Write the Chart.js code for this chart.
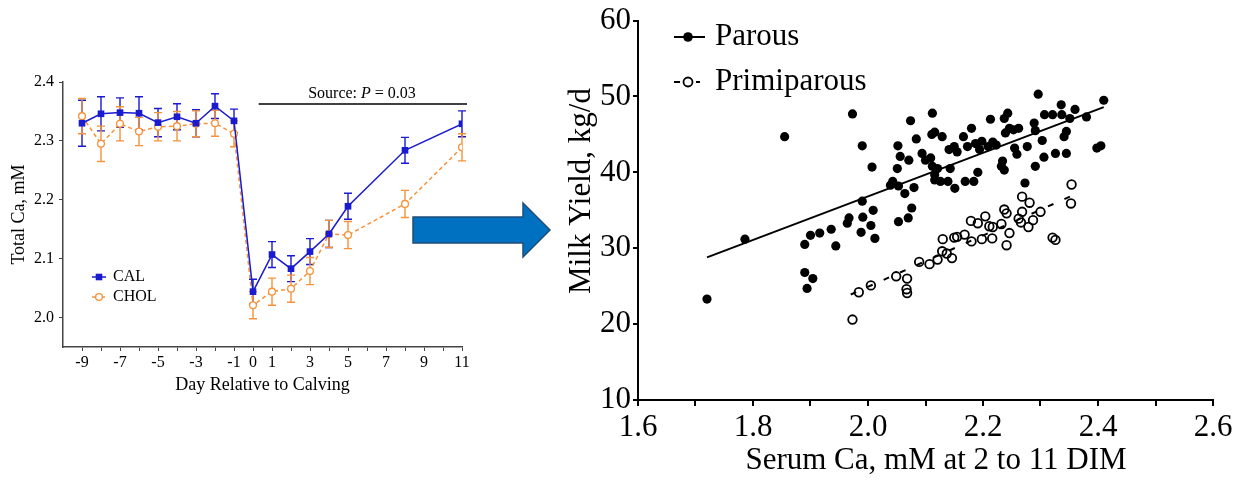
<!DOCTYPE html>
<html>
<head>
<meta charset="utf-8">
<script src="https://cdn.jsdelivr.net/npm/chart.js@4"></script>
<style>
    body { margin: 0; background: #fff; width: 1246px; height: 481px; position: relative; overflow: hidden; }
    #left { position: absolute; left: 0; top: 0; }
    #arrow { position: absolute; left: 0; top: 0; }
    #right { position: absolute; left: 560px; top: 0; }
</style>
</head>
<body>
<canvas id="left" width="480" height="481"></canvas>
<svg id="arrow" width="1246" height="481">
    <polygon points="413,217 523,217 523,203 550,230 523,257 523,243 413,243" fill="#0070C0" stroke="#1F4E79" stroke-width="1.5"/>
</svg>
<canvas id="right" width="686" height="481"></canvas>
<script>
// left panel: total Ca around calving
const days = [-9, -8, -7, -6, -5, -4, -3, -2, -1, 0, 1, 2, 3, 4, 5, 8, 11];
const calMean = [2.330, 2.346, 2.348, 2.347, 2.331, 2.341, 2.330, 2.359, 2.334, 2.044, 2.107, 2.083, 2.112, 2.142, 2.189, 2.284, 2.329];
const calSem = [0.039, 0.029, 0.025, 0.028, 0.024, 0.022, 0.023, 0.021, 0.020, 0.021, 0.022, 0.022, 0.022, 0.023, 0.022, 0.022, 0.022];
const cholMean = [2.342, 2.295, 2.329, 2.316, 2.324, 2.325, 2.329, 2.330, 2.312, 2.021, 2.044, 2.049, 2.079, 2.142, 2.140, 2.193, 2.289];
const cholSem = [0.030, 0.030, 0.029, 0.024, 0.024, 0.025, 0.022, 0.022, 0.022, 0.023, 0.023, 0.023, 0.023, 0.023, 0.023, 0.023, 0.023];
const dayTicks = [-9, -7, -5, -3, -1, 0, 1, 3, 5, 7, 9, 11];
const dayMarks = [-9, -8, -7, -6, -5, -4, -3, -2, -1, 0, 1, 2, 3, 4, 5, 6, 7, 8, 9, 10, 11];
const caTicks = [2.0, 2.1, 2.2, 2.3, 2.4];

// right panel: milk yield vs serum Ca
const parousCa = [1.72, 1.786, 1.855, 1.89, 1.89, 1.894, 1.904, 1.90, 1.916, 1.936, 1.944, 1.964, 1.967, 1.973, 1.99, 1.99, 1.991, 1.988, 2.005, 2.009,
    2.012, 2.007, 2.039, 2.043, 2.052, 2.051, 2.056, 2.053, 2.053, 2.064, 2.071, 2.074, 2.07, 2.076, 2.08, 2.084, 2.094, 2.10, 2.112, 2.111,
    2.116, 2.129, 2.109, 2.112, 2.116, 2.121, 2.116, 2.126, 2.139, 2.143, 2.141, 2.151, 2.15, 2.155, 2.166, 2.169, 2.173, 2.18, 2.184, 2.187,
    2.191, 2.194, 2.198, 2.209, 2.213, 2.217, 2.223, 2.232, 2.234, 2.237, 2.237, 2.243, 2.239, 2.246, 2.253, 2.255, 2.259, 2.262, 2.273, 2.277,
    2.289, 2.291, 2.291, 2.296, 2.303, 2.307, 2.306, 2.321, 2.326, 2.336, 2.337, 2.341, 2.345, 2.345, 2.351, 2.36, 2.38, 2.398, 2.405, 2.41];
const parousYield = [23.3, 31.2, 44.7, 30.5, 26.8, 24.7, 26.0, 31.7, 32.0, 32.5, 30.3, 33.3, 34.0, 47.7, 43.5, 36.2, 34.1, 32.1, 33.0, 35.0,
    31.3, 40.7, 38.3, 38.8, 43.5, 40.5, 42.1, 38.2, 33.5, 37.2, 41.6, 46.8, 34.0, 35.3, 38.0, 44.4, 42.5, 41.6, 47.8, 45.0,
    45.3, 44.7, 41.9, 40.8, 39.7, 40.5, 39.0, 38.8, 38.8, 40.5, 43.0, 37.9, 43.4, 42.7, 44.7, 38.8, 43.4, 45.8, 38.8, 43.8,
    40.0, 43.0, 44.1, 43.4, 47.0, 44.0, 43.6, 40.8, 41.5, 40.3, 47.1, 47.8, 45.2, 45.8, 45.6, 43.2, 42.4, 45.8, 38.6, 43.4,
    46.5, 45.5, 40.8, 50.3, 44.2, 47.6, 42.0, 47.6, 42.5, 48.9, 47.6, 44.7, 45.4, 42.5, 47.1, 48.3, 47.3, 43.2, 43.5, 49.5];
const primiCa = [1.973, 1.984, 2.005, 2.049, 2.068, 2.067, 2.068, 2.089, 2.107, 2.121, 2.129, 2.13, 2.146, 2.15, 2.168, 2.179, 2.18, 2.191, 2.198, 2.204,
    2.211, 2.216, 2.232, 2.237, 2.241, 2.241, 2.246, 2.262, 2.268, 2.268, 2.266, 2.279, 2.281, 2.287, 2.3, 2.321, 2.326, 2.354, 2.353,
    2.137, 2.217, 2.155];
const primiYield = [20.6, 24.2, 25.1, 26.3, 26.0, 24.6, 24.1, 28.2, 27.9, 28.5, 29.6, 31.2, 28.7, 31.4, 31.8, 33.6, 30.9, 33.3, 31.2, 34.2,
    32.9, 31.3, 33.2, 35.1, 34.6, 30.4, 32.0, 33.9, 36.8, 34.8, 33.4, 32.8, 36.0, 33.7, 34.8, 31.4, 31.1, 38.4, 35.9,
    29.3, 32.8, 31.5];
const parousFitCa = [1.72, 2.41];
const parousFitYield = [28.8, 48.6];
const primiFitCa = [1.97, 2.36];
const primiFitYield = [23.9, 37.1];
const serumTicks = [1.6, 1.8, 2.0, 2.2, 2.4, 2.6];
const serumMarks = [1.6, 1.7, 1.8, 1.9, 2.0, 2.1, 2.2, 2.3, 2.4, 2.5, 2.6];
const yieldTicks = [10, 20, 30, 40, 50, 60];
const yieldMarks = [10, 15, 20, 25, 30, 35, 40, 45, 50, 55, 60];

const serif = "'Liberation Serif', 'Times New Roman', serif";
const calBlue = "#1a1ad0";
const cholOrange = "#f7923a";

function toPoints(xs, ys) {
    return xs.map((x, i) => ({x: x, y: ys[i]}));
}

const errorBars = {
    id: "errorBars",
    beforeDatasetsDraw(chart) {
        let ctx = chart.ctx;
        let x = chart.scales.x;
        let y = chart.scales.y;
        chart.data.datasets.forEach(ds => {
            if (!ds.errors) return;
            ctx.save();
            ctx.strokeStyle = ds.borderColor;
            ctx.lineWidth = 1.4;
            ds.data.forEach((p, j) => {
                let px = x.getPixelForValue(p.x);
                let top = y.getPixelForValue(p.y + ds.errors[j]);
                let bot = y.getPixelForValue(p.y - ds.errors[j]);
                ctx.beginPath();
                ctx.moveTo(px, top); ctx.lineTo(px, bot);
                ctx.moveTo(px - 4, top); ctx.lineTo(px + 4, top);
                ctx.moveTo(px - 4, bot); ctx.lineTo(px + 4, bot);
                ctx.stroke();
            });
            ctx.restore();
        });
    }
};

const leftExtras = {
    id: "leftExtras",
    afterDraw(chart) {
        let ctx = chart.ctx;
        let x = chart.scales.x;
        ctx.save();
        // source bar
        ctx.strokeStyle = "#000";
        ctx.lineWidth = 1.5;
        ctx.beginPath();
        ctx.moveTo(x.getPixelForValue(0.3), 104);
        ctx.lineTo(467, 104);
        ctx.stroke();

        ctx.fillStyle = "#000";
        ctx.textBaseline = "alphabetic";
        let parts = [["Source: ", "16px " + serif], ["P", "italic 16px " + serif], [" = 0.03", "16px " + serif]];
        let total = 0;
        parts.forEach(p => { ctx.font = p[1]; total += ctx.measureText(p[0]).width; });
        let cx = 362 - total / 2;
        parts.forEach(p => {
            ctx.font = p[1];
            ctx.fillText(p[0], cx, 98);
            cx += ctx.measureText(p[0]).width;
        });

        // legend
        ctx.font = "16px " + serif;
        ctx.textBaseline = "middle";
        ctx.lineWidth = 1.5;
        ctx.strokeStyle = calBlue;
        ctx.beginPath(); ctx.moveTo(92, 277); ctx.lineTo(106, 277); ctx.stroke();
        ctx.fillStyle = calBlue;
        ctx.fillRect(95.7, 273.7, 6.6, 6.6);
        ctx.fillStyle = "#000";
        ctx.fillText("CAL", 113, 277);

        ctx.strokeStyle = cholOrange;
        ctx.setLineDash([3, 2]);
        ctx.beginPath(); ctx.moveTo(92, 297); ctx.lineTo(106, 297); ctx.stroke();
        ctx.setLineDash([]);
        ctx.fillStyle = "#fff";
        ctx.lineWidth = 1.3;
        ctx.beginPath(); ctx.arc(99, 297, 3.4, 0, Math.PI * 2); ctx.fill(); ctx.stroke();
        ctx.fillStyle = "#000";
        ctx.fillText("CHOL", 113, 297);
        ctx.restore();
    }
};

const rightExtras = {
    id: "rightExtras",
    afterDraw(chart) {
        let ctx = chart.ctx;
        ctx.save();
        ctx.font = "31px " + serif;
        ctx.textBaseline = "middle";
        ctx.fillStyle = "#000";
        ctx.strokeStyle = "#000";
        ctx.lineWidth = 2;
        ctx.beginPath(); ctx.moveTo(114, 37); ctx.lineTo(145, 37); ctx.stroke();
        ctx.beginPath(); ctx.arc(128, 37, 4.8, 0, Math.PI * 2); ctx.fill();
        ctx.fillText("Parous", 155, 37);

        ctx.beginPath(); ctx.moveTo(114, 82); ctx.lineTo(120, 82); ctx.moveTo(136, 82); ctx.lineTo(140, 82); ctx.stroke();
        ctx.lineWidth = 1.8;
        ctx.beginPath(); ctx.arc(128, 82, 4.5, 0, Math.PI * 2); ctx.stroke();
        ctx.fillText("Primiparous", 155, 82);

        // axis titles
        ctx.textAlign = "center";
        ctx.fillText("Serum Ca, mM at 2 to 11 DIM", 376, 461);
        ctx.translate(22, 191);
        ctx.rotate(-Math.PI / 2);
        ctx.fillText("Milk Yield, kg/d", 0, 0);
        ctx.restore();
    }
};

new Chart(document.getElementById("left"), {
    type: "scatter",
    data: {
        datasets: [{
            label: "CAL",
            data: toPoints(days, calMean),
            errors: calSem,
            showLine: true,
            borderColor: calBlue,
            backgroundColor: calBlue,
            borderWidth: 1.5,
            pointStyle: "rect",
            pointRadius: 4.7,
            pointBorderWidth: 0
        }, {
            label: "CHOL",
            data: toPoints(days, cholMean),
            errors: cholSem,
            showLine: true,
            borderColor: cholOrange,
            backgroundColor: "#fff",
            borderWidth: 1.5,
            borderDash: [4, 3],
            pointStyle: "circle",
            pointRadius: 3.4,
            pointBorderWidth: 1.3
        }]
    },
    options: {
        responsive: false,
        animation: false,
        layout: {padding: {top: 82, right: 18, left: 0, bottom: 81}},
        plugins: {legend: {display: false}, tooltip: {enabled: false}},
        scales: {
            x: {
                type: "linear", min: -10, max: 11,
                afterBuildTicks: s => { s.ticks = dayMarks.map(v => ({value: v})); },
                afterFit: s => { s.height = 53; },
                ticks: {autoSkip: false, maxRotation: 0, padding: 2, color: "#000", font: {family: serif, size: 16},
                    callback: v => dayTicks.includes(v) ? String(v) : ""},
                grid: {drawOnChartArea: false, tickLength: 4, color: "#444"},
                border: {color: "#444", width: 1.5},
                title: {display: true, text: "Day Relative to Calving", color: "#000", font: {family: serif, size: 18}, padding: {top: 0, bottom: 4}}
            },
            y: {
                min: 1.95, max: 2.4,
                afterBuildTicks: s => { s.ticks = caTicks.map(v => ({value: v})); },
                afterFit: s => { s.width = 63; },
                ticks: {padding: 5, color: "#000", font: {family: serif, size: 16}, callback: v => v.toFixed(1)},
                grid: {drawOnChartArea: false, tickLength: 4, color: "#444"},
                border: {color: "#444", width: 1.5},
                title: {display: true, text: "Total Ca, mM", color: "#000", font: {family: serif, size: 18}, padding: {top: 8, bottom: 0}}
            }
        }
    },
    plugins: [errorBars, leftExtras]
});

new Chart(document.getElementById("right"), {
    type: "scatter",
    data: {
        datasets: [{
            label: "Parous fit",
            data: toPoints(parousFitCa, parousFitYield),
            showLine: true,
            borderColor: "#000",
            borderWidth: 2,
            pointRadius: 0
        }, {
            label: "Primiparous fit",
            data: toPoints(primiFitCa, primiFitYield),
            showLine: true,
            borderColor: "#000",
            borderWidth: 2,
            borderDash: [6, 12],
            pointRadius: 0
        }, {
            label: "Parous",
            data: toPoints(parousCa, parousYield),
            backgroundColor: "#000",
            borderColor: "#000",
            pointRadius: 4.6,
            pointBorderWidth: 0
        }, {
            label: "Primiparous",
            data: toPoints(primiCa, primiYield),
            backgroundColor: "rgba(0,0,0,0)",
            borderColor: "#000",
            pointRadius: 4.3,
            pointBorderWidth: 1.8
        }]
    },
    options: {
        responsive: false,
        animation: false,
        layout: {padding: {top: 20, right: 33, left: 0, bottom: 0}},
        plugins: {legend: {display: false}, tooltip: {enabled: false}},
        scales: {
            x: {
                min: 1.6, max: 2.6,
                afterBuildTicks: s => { s.ticks = serumMarks.map(v => ({value: v})); },
                afterFit: s => { s.height = 81; },
                ticks: {autoSkip: false, maxRotation: 0, padding: 3, color: "#000", font: {family: serif, size: 31},
                    callback: v => serumTicks.some(t => Math.abs(t - v) < 1e-6) ? v.toFixed(1) : ""},
                grid: {drawOnChartArea: false, tickLength: 6, color: "#000", lineWidth: 2},
                border: {color: "#000", width: 2}
            },
            y: {
                min: 10, max: 60,
                afterBuildTicks: s => { s.ticks = yieldMarks.map(v => ({value: v})); },
                afterFit: s => { s.width = 78; },
                ticks: {padding: 2, color: "#000", font: {family: serif, size: 31},
                    callback: v => yieldTicks.includes(v) ? String(v) : ""},
                grid: {drawOnChartArea: false, tickLength: 5, color: "#000", lineWidth: 2},
                border: {color: "#000", width: 2}
            }
        }
    },
    plugins: [rightExtras]
});
</script>
</body>
</html>
